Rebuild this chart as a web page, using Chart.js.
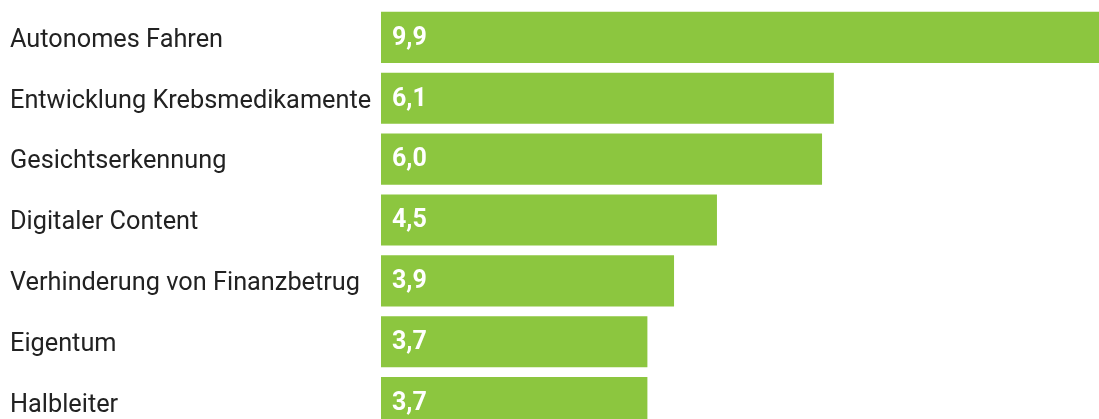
<!DOCTYPE html>
<html>
<head>
<meta charset="utf-8">
<script src="https://cdn.jsdelivr.net/npm/chart.js@4"></script>
<style>
    html, body { margin: 0; padding: 0; background: #fff; overflow: hidden; }
    #chart { display: block; }
</style>
</head>
<body>
<canvas id="chart" width="1121" height="433"></canvas>
<script>
// ---- Data ----
const categories = ['Autonomes Fahren', 'Entwicklung Krebsmedikamente', 'Gesichtserkennung', 'Digitaler Content', 'Verhinderung von Finanzbetrug', 'Eigentum', 'Halbleiter'];
// bar lengths
const values = [9.9, 6.12, 5.96, 4.54, 3.96, 3.6, 3.6];
// numbers printed on the bars
const valueLabels = ['9,9', '6,1', '6,0', '4,5', '3,9', '3,7', '3,7'];

const BAR_COLOR = '#8cc63f';

// white value text inside each bar
const barLabels = {
    id: 'barLabels',
    afterDatasetsDraw(chart) {
        const ctx = chart.ctx;
        const meta = chart.getDatasetMeta(0);
        ctx.save();
        ctx.font = 'bold 25px Roboto';
        ctx.fillStyle = '#fff';
        ctx.textAlign = 'left';
        ctx.textBaseline = 'middle';
        meta.data.forEach((bar, i) => {
            ctx.fillText(valueLabels[i], bar.base + 11, bar.y + 1);
        });
        ctx.restore();
    }
};

new Chart(document.getElementById('chart').getContext('2d'), {
    type: 'bar',
    data: {
        labels: categories,
        datasets: [{
            data: values,
            backgroundColor: BAR_COLOR,
            barPercentage: 0.84,
            categoryPercentage: 1
        }]
    },
    options: {
        indexAxis: 'y',
        responsive: false,
        animation: false,
        layout: { padding: { left: 10, top: 7, right: 0, bottom: 0 } },
        plugins: { legend: { display: false }, tooltip: { enabled: false } },
        scales: {
            x: { display: false, min: 0, max: 10 },
            y: {
                grid: { display: false },
                border: { display: false },
                ticks: {
                    crossAlign: 'far',
                    labelOffset: 3,
                    color: '#222',
                    font: { family: 'Roboto', size: 25.3 }
                },
                afterFit: (axis) => {
                    axis.width = 371;
                    axis.paddingTop = 0;
                    axis.paddingBottom = 0;
                }
            }
        }
    },
    plugins: [barLabels]
});
</script>
</body>
</html>
